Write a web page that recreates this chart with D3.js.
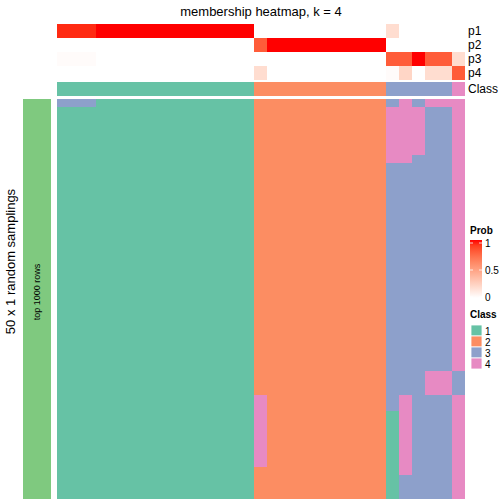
<!DOCTYPE html>
<html>
<head>
<meta charset="utf-8">
<script src="https://cdn.jsdelivr.net/npm/d3@7"></script>
<style>
  html, body { margin: 0; padding: 0; background: #fff; }
  svg { display: block; font-family: "Liberation Sans", Arial, Helvetica, sans-serif; }
</style>
</head>
<body>
<svg id="chart" width="504" height="504"></svg>
<script>
// ---------------- data ----------------
const title = "membership heatmap, k = 4";
const rowTitle = "50 x 1 random samplings";
const rowGroupLabel = "top 1000 rows";
const probNames = ["p1", "p2", "p3", "p4"];
const classLevels = ["1", "2", "3", "4"];
const classColors = ["#66C2A5", "#FC8D62", "#8DA0CB", "#E78AC3"];
const probTicks = [0, 0.5, 1];

// membership probabilities per column (31 samples)
const p1 = [0.95,0.95,0.95,1,1,1,1,1,1,1,1,1,1,1,1, 0,0,0,0,0,0,0,0,0,0, 0.18,0,0,0,0, 0];
const p2 = [0,0,0,0,0,0,0,0,0,0,0,0,0,0,0, 0.8,1,1,1,1,1,1,1,1,1, 0,0,0,0,0, 0];
const p3 = [0.02,0.02,0.02,0,0,0,0,0,0,0,0,0,0,0,0, 0,0,0,0,0,0,0,0,0,0, 0.8,0.8,1,0.8,0.8, 0.18];
const p4 = [0,0,0,0,0,0,0,0,0,0,0,0,0,0,0, 0.18,0,0,0,0,0,0,0,0,0, 0.02,0.22,0,0.18,0.18, 0.8];
const sampleClass = [1,1,1,1,1,1,1,1,1,1,1,1,1,1,1, 2,2,2,2,2,2,2,2,2,2, 3,3,3,3,3, 4];

// class assigned in each of 50 random samplings (rows) for each of 31 samples (chars)
const samplings = [
  "3331111111111112222222222343444",
  "1111111111111112222222222444334",
  "1111111111111112222222222444334",
  "1111111111111112222222222444334",
  "1111111111111112222222222444334",
  "1111111111111112222222222444334",
  "1111111111111112222222222444334",
  "1111111111111112222222222443334",
  "1111111111111112222222222333334",
  "1111111111111112222222222333334",
  "1111111111111112222222222333334",
  "1111111111111112222222222333334",
  "1111111111111112222222222333334",
  "1111111111111112222222222333334",
  "1111111111111112222222222333334",
  "1111111111111112222222222333334",
  "1111111111111112222222222333334",
  "1111111111111112222222222333334",
  "1111111111111112222222222333334",
  "1111111111111112222222222333334",
  "1111111111111112222222222333334",
  "1111111111111112222222222333334",
  "1111111111111112222222222333334",
  "1111111111111112222222222333334",
  "1111111111111112222222222333334",
  "1111111111111112222222222333334",
  "1111111111111112222222222333334",
  "1111111111111112222222222333334",
  "1111111111111112222222222333334",
  "1111111111111112222222222333334",
  "1111111111111112222222222333334",
  "1111111111111112222222222333334",
  "1111111111111112222222222333334",
  "1111111111111112222222222333334",
  "1111111111111112222222222333443",
  "1111111111111112222222222333443",
  "1111111111111112222222222333443",
  "1111111111111114222222222343334",
  "1111111111111114222222222343334",
  "1111111111111114222222222143334",
  "1111111111111114222222222143334",
  "1111111111111114222222222143334",
  "1111111111111114222222222143334",
  "1111111111111114222222222143334",
  "1111111111111114222222222143334",
  "1111111111111114222222222143334",
  "1111111111111112222222222143334",
  "1111111111111112222222222133334",
  "1111111111111112222222222133334",
  "1111111111111112222222222133334"
];

// ---------------- drawing ----------------
const svg = d3.select("#chart");
const nCols = sampleClass.length;
const nRows = samplings.length;

const x = d3.scaleBand().domain(d3.range(nCols)).range([56.7, 465]).paddingInner(0).paddingOuter(0);
const y = d3.scaleBand().domain(d3.range(nRows)).range([99, 499]);
const annY = d3.scaleBand().domain(probNames).range([24, 80]);
const classY = [82, 96];
const probColor = d3.scaleLinear().domain([0, 1]).range(["#FFFFFF", "#FF0000"]).interpolate(d3.interpolateLab);
const classColor = d3.scaleOrdinal().domain(classLevels).range(classColors);

// title
svg.append("text").attr("x", 261).attr("y", 16).attr("text-anchor", "middle")
  .attr("font-size", 13).text(title);

// probability annotation rows
const probs = [p1, p2, p3, p4];
probNames.forEach((name, i) => {
  svg.append("g").selectAll("rect").data(probs[i]).join("rect")
    .attr("x", (d, j) => x(j)).attr("width", x.bandwidth() + 0.3)
    .attr("y", annY(name)).attr("height", annY.bandwidth())
    .attr("fill", d => probColor(d)).attr("shape-rendering", "crispEdges");
  svg.append("text").attr("x", 468).attr("y", annY(name) + annY.bandwidth() / 2 + 4)
    .attr("font-size", 12).text(name);
});

// class annotation row
svg.append("g").selectAll("rect").data(sampleClass).join("rect")
  .attr("x", (d, j) => x(j)).attr("width", x.bandwidth() + 0.3)
  .attr("y", classY[0]).attr("height", classY[1] - classY[0])
  .attr("fill", d => classColor(String(d))).attr("shape-rendering", "crispEdges");
svg.append("text").attr("x", 468).attr("y", (classY[0] + classY[1]) / 2 + 4)
  .attr("font-size", 12).text("Class");

// main heatmap
const cells = [];
samplings.forEach((row, r) => row.split("").forEach((c, j) => cells.push({ r, j, c })));
svg.append("g").selectAll("rect").data(cells).join("rect")
  .attr("x", d => x(d.j)).attr("width", x.bandwidth() + 0.3)
  .attr("y", d => y(d.r)).attr("height", y.bandwidth() + 0.3)
  .attr("fill", d => classColor(d.c)).attr("shape-rendering", "crispEdges");

// row group bar and titles
svg.append("rect").attr("x", 23).attr("y", y.range()[0]).attr("width", 28)
  .attr("height", y.range()[1] - y.range()[0]).attr("fill", "#7FC97F");
svg.append("text").attr("transform", "translate(40,292) rotate(-90)")
  .attr("text-anchor", "middle").attr("font-size", 9).text(rowGroupLabel);
svg.append("text").attr("transform", "translate(15,261.5) rotate(-90)")
  .attr("text-anchor", "middle").attr("font-size", 13).text(rowTitle);

// Prob legend
const lg = svg.append("g");
lg.append("text").attr("x", 470).attr("y", 234).attr("font-size", 10).attr("font-weight", "bold").text("Prob");
const defs = svg.append("defs");
const grad = defs.append("linearGradient").attr("id", "pgrad").attr("x1", 0).attr("x2", 0).attr("y1", 1).attr("y2", 0);
d3.range(0, 1.0001, 0.1).forEach(t => grad.append("stop").attr("offset", t).attr("stop-color", probColor(t)));
const legY = d3.scaleLinear().domain([0, 1]).range([297, 243]);
lg.append("rect").attr("x", 470).attr("y", 240).attr("width", 12).attr("height", 58).attr("fill", "url(#pgrad)");
probTicks.forEach(t => {
  lg.append("line").attr("x1", 470).attr("x2", 473).attr("y1", legY(t)).attr("y2", legY(t)).attr("stroke", "#fff").attr("stroke-width", 0.8);
  lg.append("line").attr("x1", 479).attr("x2", 482).attr("y1", legY(t)).attr("y2", legY(t)).attr("stroke", "#fff").attr("stroke-width", 0.8);
  lg.append("text").attr("x", 485).attr("y", legY(t) + 3.5).attr("font-size", 10).text(t === 0.5 ? "0.5" : String(t));
});

// Class legend
const cl = svg.append("g");
cl.append("text").attr("x", 470).attr("y", 318).attr("font-size", 10).attr("font-weight", "bold").text("Class");
classLevels.forEach((lev, i) => {
  cl.append("rect").attr("x", 471).attr("y", 325 + i * 11).attr("width", 11).attr("height", 11)
    .attr("fill", classColor(lev)).attr("stroke", "#fff").attr("stroke-width", 0.8);
  cl.append("text").attr("x", 485).attr("y", 325 + i * 11 + 9.5).attr("font-size", 10).text(lev);
});
</script>
</body>
</html>
